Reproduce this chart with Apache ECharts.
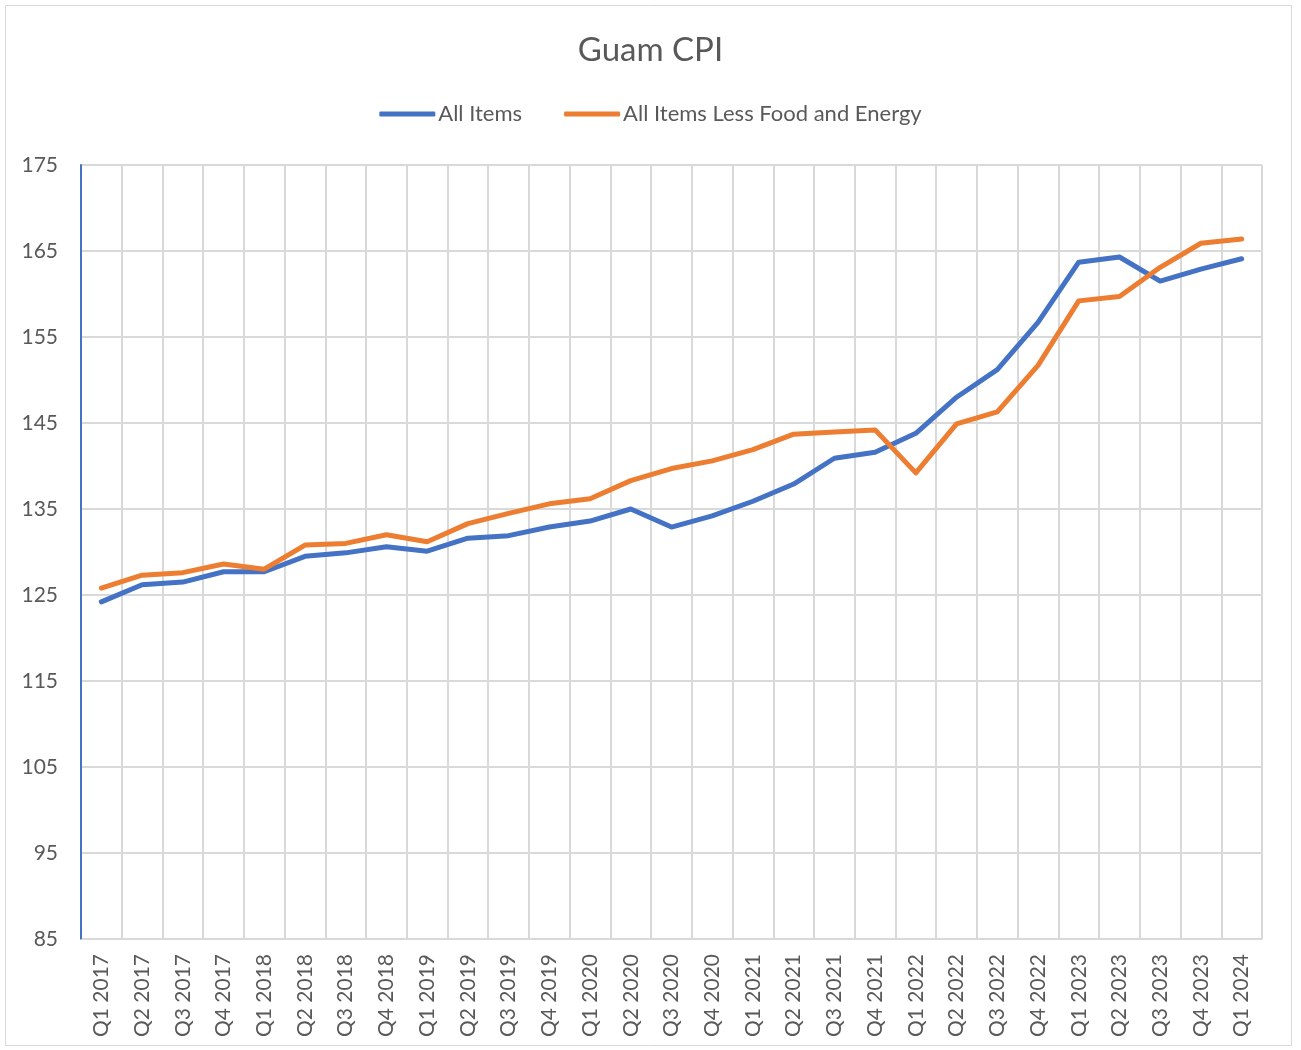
<!DOCTYPE html>
<html><head><meta charset="utf-8">
<script src="https://cdn.jsdelivr.net/npm/echarts@6/dist/echarts.min.js"></script>
<style>html,body{margin:0;padding:0;background:#fff}#c{width:1301px;height:1050px}</style>
</head><body><div id="c"></div>
<script>
const categories = ["Q1 2017","Q2 2017","Q3 2017","Q4 2017","Q1 2018","Q2 2018","Q3 2018","Q4 2018","Q1 2019","Q2 2019","Q3 2019","Q4 2019","Q1 2020","Q2 2020","Q3 2020","Q4 2020","Q1 2021","Q2 2021","Q3 2021","Q4 2021","Q1 2022","Q2 2022","Q3 2022","Q4 2022","Q1 2023","Q2 2023","Q3 2023","Q4 2023","Q1 2024"];
const allItems = [124.2,126.2,126.5,127.7,127.7,129.5,129.9,130.6,130.1,131.6,131.9,132.9,133.6,135.0,132.9,134.2,135.9,137.9,140.9,141.6,143.8,148.0,151.2,156.7,163.7,164.3,161.5,162.9,164.1];
const lessFoodEnergy = [125.8,127.3,127.6,128.6,128.0,130.8,131.0,132.0,131.2,133.3,134.5,135.6,136.2,138.3,139.7,140.6,141.9,143.7,143.95,144.2,139.2,144.9,146.3,151.7,159.2,159.7,163.1,165.9,166.4];
const yMin = 85, yMax = 175, yStep = 10;

const txt = '#595959', grid = '#d9d9d9';
const chart = echarts.init(document.getElementById('c'), null, {renderer:'canvas'});
chart.setOption({
  animation:false,
  backgroundColor:'#fff',
  textStyle:{fontFamily:'Lato'},
  graphic:[{type:'rect',shape:{x:5.5,y:5.5,width:1286,height:1040},style:{fill:'none',stroke:grid,lineWidth:1},silent:true}],
  title:{text:'Guam CPI',left:'center',top:29,textStyle:{fontFamily:'Lato',fontSize:33,fontWeight:'normal',color:txt}},
  legend:{top:98,left:'center',itemWidth:56,itemHeight:5,itemGap:42,icon:'roundRect',
    textStyle:{fontFamily:'Lato',fontSize:22,color:txt,padding:[0,0,0,-2]},
    data:['All Items','All Items Less Food and Energy']},
  grid:{left:81,right:39,top:165,bottom:111,containLabel:false},
  xAxis:{type:'category',data:categories,boundaryGap:true,
    axisLine:{lineStyle:{color:grid,width:1}},axisTick:{show:false},
    axisLabel:{rotate:90,interval:0,margin:15,fontFamily:'Lato',fontSize:21,color:txt},
    splitLine:{show:true,interval:0,lineStyle:{color:grid,width:2}}},
  yAxis:{type:'value',min:yMin,max:yMax,interval:yStep,
    axisLine:{show:true,lineStyle:{color:'#4472C4',width:2}},axisTick:{show:false},
    axisLabel:{fontFamily:'Lato',fontSize:21,color:txt,margin:23},
    splitLine:{lineStyle:{color:grid,width:2}}},
  series:[
    {name:'All Items',type:'line',data:allItems,symbol:'none',lineStyle:{width:5,color:'#4472C4',cap:'round',join:'round'},itemStyle:{color:'#4472C4'}},
    {name:'All Items Less Food and Energy',type:'line',data:lessFoodEnergy,symbol:'none',lineStyle:{width:5,color:'#ED7D31',cap:'round',join:'round'},itemStyle:{color:'#ED7D31'}}
  ]
});
</script></body></html>
